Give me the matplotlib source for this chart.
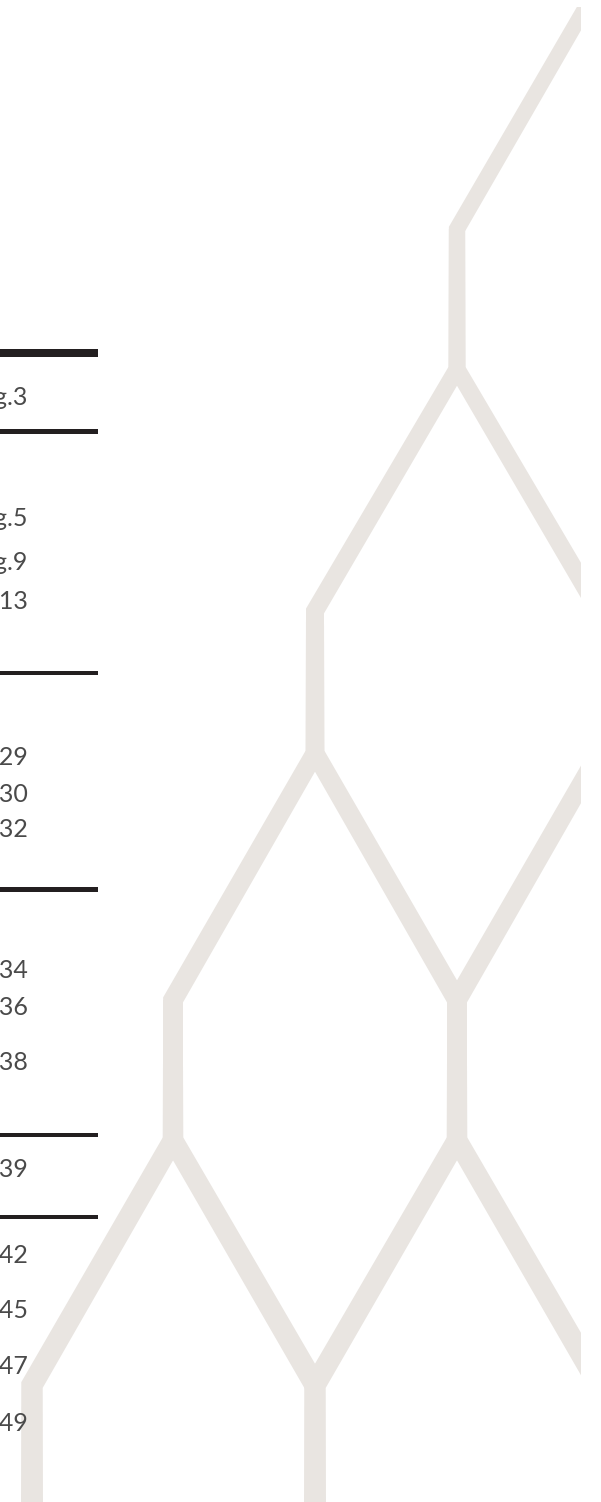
import numpy as np
import matplotlib as mpl
import matplotlib.pyplot as plt
from matplotlib.patches import Polygon

# Page numbers of the contents list (left part is cut off by the page edge)
page_labels = ['pg.3', 'pg.5', 'pg.9', 'pg.13', 'pg.29', 'pg.30', 'pg.32',
               'pg.34', 'pg.36', 'pg.38', 'pg.39', 'pg.42', 'pg.45', 'pg.47', 'pg.49']
label_baselines = [405, 525.5, 570, 609, 765, 802, 837,
                   978, 1015, 1070, 1177, 1263, 1318, 1374, 1431]

# Separator rules (centre y, thickness) in pixels
rule_y = [353.3, 431.6, 672.9, 889.5, 1134.8, 1217.2]
rule_h = [8.0, 4.6, 4.4, 4.6, 4.2, 4.4]
rule_len = 98

# Hexagon lattice: column x positions and the y levels of the vertices
hex_x = [32, 173, 315, 457, 599]
hex_levels = [-16, 229, 369, 611, 753, 1000, 1140, 1385, 1525]
# each path is a list of (column, level) indices
hex_paths = [
    [(4, 0), (3, 1), (3, 2), (2, 3), (2, 4), (1, 5), (1, 6), (0, 7), (0, 8)],
    [(3, 1), (3, 2), (4, 3), (4, 4), (3, 5), (3, 6), (2, 7), (2, 8)],
    [(2, 3), (2, 4), (3, 5), (3, 6), (4, 7), (4, 8)],
    [(1, 5), (1, 6), (2, 7)],
]

W, H = 601, 1502
DPI = 100
HEX_COLOR = '#E9E5E1'
RULE_COLOR = '#231F20'
TEXT_COLOR = '#4a4a4a'


def stroke_width(y):
    # the pattern strokes get a little thicker towards the bottom of the page
    return 15.2 + 0.0045 * y


def stroke_polygon(pts):
    """Outline of a polyline stroked with mitred joins and butt ends."""
    pts = np.asarray(pts, dtype=float)
    d = np.diff(pts, axis=0)
    d /= np.linalg.norm(d, axis=1)[:, None]
    normals = np.stack([-d[:, 1], d[:, 0]], axis=1)
    left, right = [], []
    for i, p in enumerate(pts):
        if i == 0:
            nv, scale = normals[0], 1.0
        elif i == len(pts) - 1:
            nv, scale = normals[-1], 1.0
        else:
            nv = normals[i - 1] + normals[i]
            nv /= np.linalg.norm(nv)
            scale = 1.0 / np.dot(nv, normals[i])
        h = stroke_width(p[1]) / 2 * scale
        left.append(p + nv * h)
        right.append(p - nv * h)
    return np.vstack([left, right[::-1]])


mpl.rcParams['font.family'] = ['Lato', 'DejaVu Sans']

fig = plt.figure(figsize=(W / DPI, H / DPI), dpi=DPI)
fig.patch.set_facecolor('white')

# background pattern, cropped at the right and top like the printed page
clip_right, clip_top = 581, 7
hax = fig.add_axes([0, 0, clip_right / W, (H - clip_top) / H])
hax.set_xlim(0, clip_right)
hax.set_ylim(H, clip_top)
hax.axis('off')
for path in hex_paths:
    pts = [(hex_x[c], hex_levels[l]) for c, l in path]
    hax.add_patch(Polygon(stroke_polygon(pts), closed=True, facecolor=HEX_COLOR,
                          edgecolor='none', linewidth=0))

# contents column
ax = fig.add_axes([0, 0, 1, 1])
ax.set_xlim(0, W)
ax.set_ylim(H, 0)
ax.axis('off')
ax.patch.set_alpha(0)

ax.barh(rule_y, [rule_len] * len(rule_y), height=rule_h, left=0, color=RULE_COLOR)

for label, yb in zip(page_labels, label_baselines):
    ax.text(28, yb, label, ha='right', va='baseline', fontsize=18,
            fontweight='normal', color=TEXT_COLOR)

fig.savefig('out.png', dpi=DPI, facecolor='white')
